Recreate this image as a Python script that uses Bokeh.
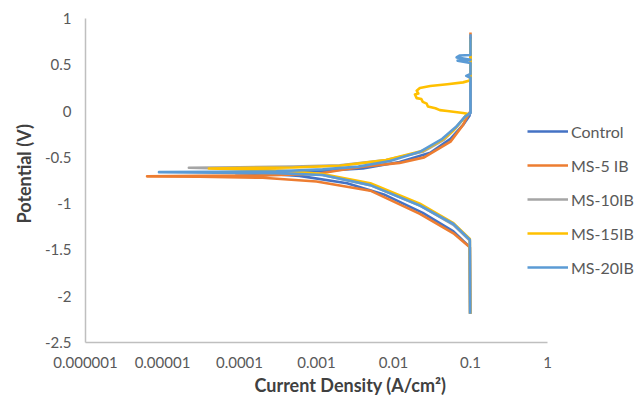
from bokeh.plotting import figure
from bokeh.models import FixedTicker, CustomJSTickFormatter, Legend, LegendItem, Range1d, Title
from bokeh.embed import file_html
from bokeh.resources import INLINE

# ---- data (current density A/cm2, potential V) ----
series_names = ["Control", "MS-5 IB", "MS-10IB", "MS-15IB", "MS-20IB"]
series_colors = ["#4472C4", "#ED7D31", "#A5A5A5", "#FFC000", "#5B9BD5"]

control_i = [0.099, 0.098, 0.06, 0.024, 0.0075, 0.0025, 6e-4, 2.5e-4, 9e-5,
             2.5e-4, 1e-3, 4e-3, 0.012, 0.03, 0.055, 0.08, 0.097, 0.1, 0.1]
control_v = [-2.19, -1.47, -1.30, -1.10, -0.90, -0.78, -0.70, -0.68, -0.67,
             -0.665, -0.65, -0.62, -0.55, -0.45, -0.30, -0.15, -0.05, 0.0, 0.80]

ms5_i = [0.099, 0.098, 0.06, 0.022, 5e-3, 1e-3, 2e-4, 3e-5, 6.3e-6,
         3e-5, 2e-4, 1e-3, 2e-3, 4e-3, 0.012, 0.025, 0.055, 0.08, 0.095, 0.1, 0.1]
ms5_v = [-2.19, -1.47, -1.32, -1.11, -0.86, -0.76, -0.72, -0.71, -0.705,
         -0.70, -0.695, -0.68, -0.64, -0.60, -0.56, -0.50, -0.33, -0.15, -0.03, 0.0, 0.85]

ms10_i = [0.099, 0.098, 0.06, 0.022, 5e-3, 1.2e-3, 4e-4, 1e-4, 2.2e-5,
          1e-4, 5e-4, 2e-3, 8e-3, 0.024, 0.045, 0.065, 0.085, 0.1, 0.1]
ms10_v = [-2.19, -1.40, -1.23, -1.02, -0.80, -0.69, -0.65, -0.625, -0.612,
          -0.608, -0.60, -0.585, -0.53, -0.44, -0.31, -0.18, -0.06, -0.02, 0.75]

ms15_i = [0.099, 0.098, 0.06, 0.022, 5e-3, 1.2e-3, 4e-4, 1.2e-4, 4e-5,
          1e-4, 5e-4, 2e-3, 8e-3, 0.024, 0.045, 0.06, 0.078, 0.091,
          0.08, 0.05, 0.04, 0.035, 0.028, 0.027, 0.024, 0.023, 0.020, 0.019,
          0.021, 0.020, 0.022, 0.03, 0.05, 0.08, 0.098, 0.1, 0.1]
ms15_v = [-2.19, -1.38, -1.21, -1.00, -0.78, -0.68, -0.645, -0.63, -0.62,
          -0.615, -0.61, -0.59, -0.53, -0.43, -0.30, -0.21, -0.10, -0.03,
          -0.02, 0.0, 0.01, 0.03, 0.05, 0.08, 0.10, 0.13, 0.14, 0.18,
          0.19, 0.22, 0.25, 0.27, 0.29, 0.31, 0.33, 0.40, 0.78]

ms20_i = [0.099, 0.098, 0.06, 0.022, 5e-3, 1.2e-3, 3e-4, 5e-5, 9e-6,
          5e-5, 3e-4, 1.2e-3, 3.5e-3, 9e-3, 0.022, 0.043, 0.065, 0.085, 0.1,
          0.1, 0.088, 0.1, 0.1, 0.068, 0.1, 0.066, 0.072, 0.1, 0.1]
ms20_v = [-2.19, -1.39, -1.22, -1.02, -0.80, -0.69, -0.67, -0.665, -0.66,
          -0.657, -0.65, -0.63, -0.60, -0.54, -0.44, -0.30, -0.17, -0.06, -0.02,
          0.36, 0.38, 0.40, 0.52, 0.545, 0.555, 0.58, 0.60, 0.605, 0.83]

x_ticks = [1e-6, 1e-5, 1e-4, 1e-3, 1e-2, 1e-1, 1]
y_ticks = [1, 0.5, 0, -0.5, -1, -1.5, -2, -2.5]

all_i = [control_i, ms5_i, ms10_i, ms15_i, ms20_i]
all_v = [control_v, ms5_v, ms10_v, ms15_v, ms20_v]

FONT = "Lato"
LEFT, RIGHT_GAP, DECADE = 85, 4, 77.0          # layout pixels
frame_w = 644 - LEFT - RIGHT_GAP
x_end = 10 ** (frame_w / DECADE - 6)            # frame extends past 1 so the legend is not clipped

p = figure(width=644, height=404, x_axis_type="log", output_backend="svg",
           toolbar_location=None, x_range=Range1d(1e-6, x_end), y_range=Range1d(-2.5, 1),
           min_border_left=LEFT, min_border_right=RIGHT_GAP, min_border_top=18,
           min_border_bottom=62)
p.outline_line_color = None
p.xgrid.visible = False
p.ygrid.visible = False

renderers = []
for xs, ys, c in zip(all_i, all_v, series_colors):
    r = p.line(xs, ys, line_color=c, line_width=2.6, line_join="round")
    renderers.append(r)

for ax in (p.xaxis[0], p.yaxis[0]):
    ax.axis_line_color = "#BFBFBF"
    ax.axis_line_width = 1.5
    ax.major_tick_line_color = None
    ax.minor_tick_line_color = None
    ax.major_label_text_font = FONT
    ax.major_label_text_font_size = "15px"
    ax.major_label_text_color = "#595959"

p.xaxis.ticker = FixedTicker(ticks=x_ticks)
p.xaxis.bounds = (1e-6, 1)
p.xaxis.formatter = CustomJSTickFormatter(code="""
    if (tick >= 1) return tick.toFixed(0);
    return tick.toFixed(Math.round(-Math.log10(tick)));
""")
p.xaxis.major_label_standoff = 8

p.yaxis.ticker = FixedTicker(ticks=y_ticks)
p.yaxis.formatter = CustomJSTickFormatter(code="return String(Math.round(tick*10)/10);")
p.yaxis.major_label_standoff = 8

p.add_layout(Title(text="Current Density (A/cm²)", align="left", offset=169,
                   text_font=FONT, text_font_size="18px", text_font_style="bold",
                   text_color="#404040", standoff=2), "below")
p.add_layout(Title(text="Potential (V)", align="left", offset=119,
                   text_font=FONT, text_font_size="18px", text_font_style="bold",
                   text_color="#404040", standoff=14), "left")

legend = Legend(items=[LegendItem(label=n, renderers=[r]) for n, r in zip(series_names, renderers)],
                location=(442, 65), border_line_color=None, background_fill_alpha=0,
                padding=0, margin=0, spacing=14, glyph_width=41, glyph_height=20,
                label_height=20, label_standoff=3, label_text_font=FONT,
                label_text_font_size="16px", label_text_color="#595959")
p.add_layout(legend, "center")

open("out.html", "w").write(file_html(p, INLINE))
